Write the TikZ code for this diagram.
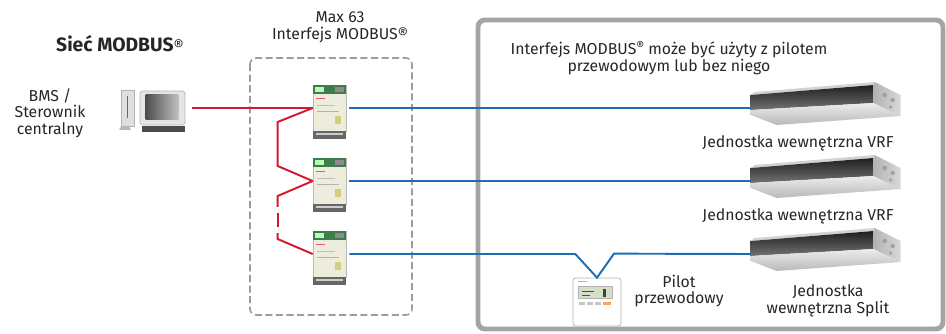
\documentclass[tikz,border=0pt]{standalone}
\usepackage{fontspec}
\setmainfont{Fira Sans}
\usetikzlibrary{calc}

\definecolor{modbusred}{HTML}{D3182F}
\definecolor{unitblue}{HTML}{1C6DB6}
\definecolor{framegray}{HTML}{A4A4A4}
\definecolor{boxgray}{HTML}{9C9C9C}
\definecolor{lcdgreen}{HTML}{D5DEC6}
\definecolor{railgreen}{HTML}{3E7D4B}
\definecolor{modcream}{HTML}{EDECDD}

\tikzset{
  txt/.style={font=\fontsize{9}{9.4}\selectfont, align=center, inner sep=0pt, text=black!85},
  busline/.style={modbusred, line width=1.1pt},
  unitline/.style={unitblue, line width=1.1pt},
  groupbox/.style={boxgray, line width=0.9pt, dash pattern=on 4pt off 2pt, rounded corners=3.5pt},
  areabox/.style={framegray, line width=2.8pt, rounded corners=4pt},
  modbody/.style={draw=gray!55, fill=modcream, minimum width=0.66cm, minimum height=0.92cm, inner sep=0pt},
  unitbox/.style={minimum width=2.98cm, minimum height=0.8cm, inner sep=0pt},
  remote/.style={draw=gray!60, fill=white, rounded corners=1.5pt, minimum width=0.96cm, minimum height=0.96cm, inner sep=0pt},
  % ducted indoor unit, origin where the cable comes in
  ductunit/.pic={
    \fill[gray!35] (0,-13) -- (4,-16) -- (124,-26) -- (123,-23) -- cycle;
    \shade[top color=black!88, bottom color=black!55] (0,-13) -- (123,-23) -- (123,-5) -- (0,2) -- cycle;
    \shade[top color=gray!15, bottom color=gray!55] (0,2) -- (123,-5) -- (150,8) -- (26,17) -- (0,7) -- cycle;
    \shade[left color=gray!60, right color=gray!30] (123,-23) -- (124,-26) -- (150,-13) -- (150,8) -- (123,-5) -- cycle;
    \fill[gray!75] (134,-13) circle (1.3pt) (142,-8) circle (1.2pt) (140,-1) circle (1pt);
  }
}

\begin{document}
\begin{tikzpicture}[x=0.02cm, y=-0.02cm]
\useasboundingbox (0,0) rectangle (946,334);

% frames
\draw[groupbox] (250,58) rectangle (412,315);
\draw[areabox] (478,20) rectangle (943,329);

% texts
\node[txt, font=\fontsize{11}{12}\selectfont\bfseries] (title) at (120,44) {Sieć MODBUS{\mdseries\fontsize{9}{10}\selectfont®}};
\node[txt] (bms) at (50,113) {BMS /\\Sterownik\\centralny};
\node[txt] (max) at (340,27) {Max 63\\Interfejs MODBUS®};
\node[txt] (note) at (669,58) {Interfejs MODBUS{\fontsize{7}{8}\selectfont\raisebox{2.5pt}{®}} może być użyty z pilotem\\przewodowym lub bez niego};

% computer
\node[draw=gray!60, fill=gray!20, rounded corners=1pt, minimum width=0.9cm, minimum height=0.68cm, inner sep=0pt] (pc) at (162.5,108) {};
\shade[left color=black!70, right color=black!25] ($(pc.north west)+(6,4)$) rectangle ($(pc.south east)+(-7,-6)$);
\fill[black!70] ($(pc.south west)+(2,1)$) rectangle ($(pc.south east)+(0,7)$);
\draw[gray!60, fill=gray!25] (121,90) rectangle (134,126);
\draw[black!60, line width=0.8pt] (127.5,96) -- (127.5,118);
\fill[gray!55] (119,130) -- (121,126) -- (129,126) -- (131,130) -- cycle;

% MODBUS interfaces
\foreach \i/\y in {1/108,2/181,3/254} {
  \node[modbody] (m\i) at (329.5,\y) {};
  \fill[railgreen] (m\i.north west) rectangle ($(m\i.north east)+(0,9)$);
  \fill[green!30!white] ($(m\i.north west)+(2,2)$) rectangle ++(9,5);
  \fill[black!45] ($(m\i.north west)+(22,2)$) rectangle ++(9,5);
  \fill[modbusred!70] ($(m\i.north west)+(3,13)$) rectangle ++(9,1.5);
  \draw[gray!60, line width=0.3pt] ($(m\i.west)+(4,3)$) -- ++(22,0);
  \draw[gray!50, line width=0.3pt] ($(m\i.west)+(4,-3)$) -- ++(18,0);
  \fill[olive!40] ($(m\i.east)+(-11,8)$) rectangle ++(6,8);
  \fill[black!60] (m\i.south west) rectangle ($(m\i.south east)+(0,8)$);
  \fill[gray!40] ($(m\i.south west)+(3,2)$) rectangle ++(27,2);
}

% indoor units
\node[unitbox] (u1) at (825.5,108) {};
\node[unitbox] (u2) at (825.5,181) {};
\node[unitbox] (u3) at (825.5,254) {};
\foreach \i in {1,2,3} \pic at (u\i.west) {ductunit};
\node[txt] (lab1) at (798,143) {Jednostka wewnętrzna VRF};
\node[txt] (lab2) at (798,216) {Jednostka wewnętrzna VRF};
\node[txt] (lab3) at (828,301) {Jednostka\\wewnętrzna Split};

% wired remote
\node[remote] (rc) at (597,302) {};
\fill[gray!60] ($(rc.north west)+(5,3)$) rectangle ++(9,1);
\draw[gray!60, fill=lcdgreen] ($(rc.center)+(-19,-16)$) rectangle ($(rc.center)+(15,-4)$);
\draw[black!70, line width=0.4pt] ($(rc.center)+(-15,-11)$) -- ++(12,0) ($(rc.center)+(-15,-7)$) -- ++(8,0);
\fill[black!75] ($(rc.center)+(6,-13)$) rectangle ++(3,8);
\foreach \dx in {-18,-10,-2} \fill[gray!45] ($(rc.center)+(\dx,0)$) rectangle ++(6,2.5);
\fill[orange!70] ($(rc.center)+(6,0)$) rectangle ++(8,2.5);
\node[txt] (pilot) at (679,291) {Pilot\\przewodowy};

% MODBUS bus
\draw[busline, shorten <=1.4mm] (pc.east) -- (m1.west);
\draw[busline] (m1.west) -- ++(-35,14) -- ++(0,44) -- (m2.west);
\draw[busline] (m2.west) -- ++(-35,15) -- ++(0,11) coordinate (gapA);
\draw[busline] ($(gapA)+(0,6)$) -- ++(0,14);
\draw[busline] ($(gapA)+(0,26)$) -- ++(0,6) -- (m3.west);

% connections to the units
\draw[unitline, shorten <=0.6mm] (m1.east) -- (u1.west);
\draw[unitline, shorten <=0.6mm] (m2.east) -- (u2.west);
\draw[unitline, shorten <=0.6mm] (m3.east) -- ++(229,0) -- (rc.north) -- ++(17,-24) -- (u3.west);
\end{tikzpicture}
\end{document}
